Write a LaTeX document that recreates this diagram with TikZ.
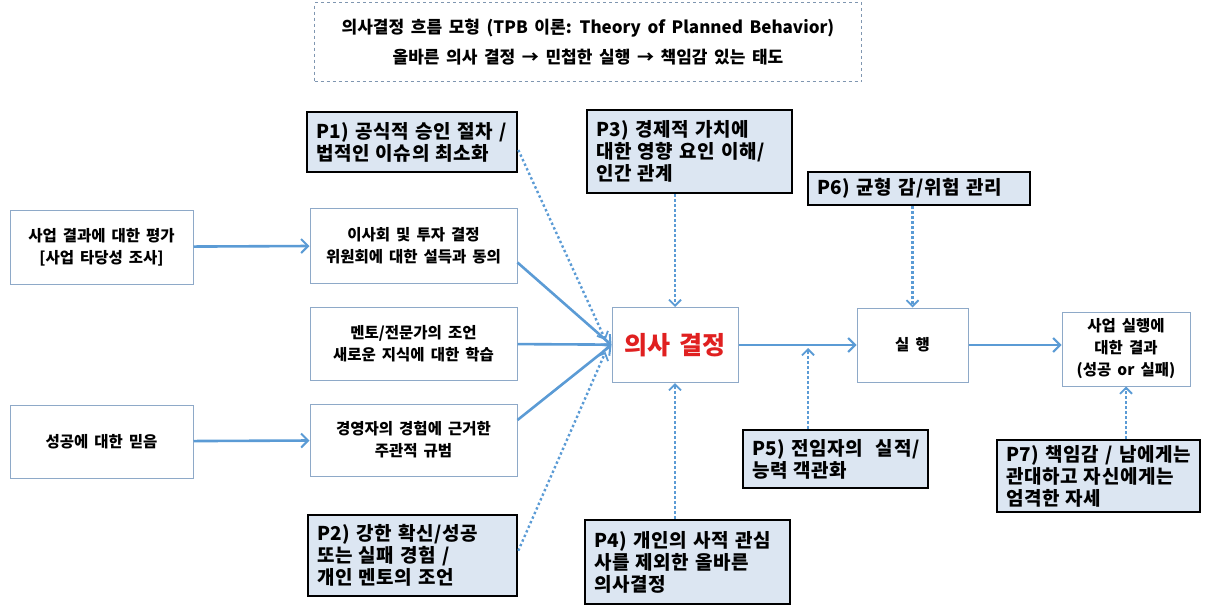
\documentclass[tikz,border=0pt]{standalone}
\usepackage{fontspec}
\setmainfont[WordSpace=1.7]{Noto Sans CJK KR}
\newfontfamily\pfont[WordSpace=1.7,LetterSpace=3]{Noto Sans CJK KR}
\usetikzlibrary{arrows.meta,calc}
\definecolor{lineblue}{HTML}{5B9BD5}
\definecolor{boxedge}{HTML}{8EA9C8}
\definecolor{pfill}{HTML}{DCE6F2}
\definecolor{titleedge}{HTML}{7F96B0}
\definecolor{decred}{HTML}{E02020}
\tikzset{
  plain/.style={draw=boxedge, line width=1pt, fill=white, align=center, font=\bfseries\fontsize{15.5}{22}\selectfont, inner sep=2pt},
  pbox/.style={draw=black, line width=2.6pt, fill=pfill, align=left, font=\pfont\bfseries\fontsize{19}{22}\selectfont, inner xsep=9pt, inner ysep=2pt},
  flow/.style={draw=lineblue, line width=2.6pt, -{Straight Barb[length=7pt,width=14pt,line width=2pt]}},
  hint/.style={draw=lineblue, line width=2.4pt, dash pattern=on 2.4pt off 2.6pt, -{Straight Barb[length=6pt,width=12pt,line width=1.8pt,sep=0pt]}}
}
\begin{document}
\begin{tikzpicture}[x=1pt,y=-1pt]
\useasboundingbox (0,0) rectangle (1215,606);
% title
\node[draw=titleedge, dashed, line width=1pt, minimum width=547pt, minimum height=79pt, align=center, font=\bfseries\fontsize{17}{30}\selectfont] (title) at (588,42)
  {의사결정 흐름 모형 (TPB 이론: Theory of Planned Behavior)\\올바른 의사 결정 → 민첩한 실행 → 책임감 있는 태도};
% plain boxes
\node[plain, minimum width=183pt, minimum height=74pt] (A) at (101.5,247) {사업 결과에 대한 평가\\{}{[}사업 타당성 조사{]}};
\node[plain, minimum width=207pt, minimum height=75pt] (B) at (413.5,245.5) {이사회 및 투자 결정\\위원회에 대한 설득과 동의};
\node[plain, minimum width=207pt, minimum height=73pt] (C) at (413.5,343.5) {멘토/전문가의 조언\\새로운 지식에 대한 학습};
\node[plain, minimum width=183pt, minimum height=73pt] (D) at (101.5,441.5) {성공에 대한 믿음};
\node[plain, minimum width=207pt, minimum height=72pt] (E) at (413.5,440) {경영자의 경험에 근거한\\주관적 규범};
\node[plain, minimum width=126pt, minimum height=75pt, font=\bfseries\fontsize{25}{28}\selectfont, text=decred] (dec) at (675,345) {의사 결정};
\node[plain, minimum width=111pt, minimum height=74pt] (exe) at (912.5,345) {실 행};
\node[plain, minimum width=128pt, minimum height=74pt] (res) at (1126,349) {사업 실행에\\대한 결과\\(성공 or 실패)};
% P boxes
\node[pbox, minimum width=210pt, minimum height=60pt, text width=192pt] (P1) at (412,142) {P1) 공식적 승인 절차 /\\법적인 이슈의 최소화};
\node[pbox, minimum width=205pt, minimum height=83pt, text width=187pt] (P3) at (689.5,151.5) {P3) 경제적 가치에\\대한 영향 요인 이해/\\인간 관계};
\node[pbox, minimum width=222pt, minimum height=33pt, text width=204pt] (P6) at (919,188.5) {P6) 균형 감/위험 관리};
\node[pbox, minimum width=185pt, minimum height=58pt, text width=167pt] (P5) at (835.5,459) {P5) 전임자의 \ 실적/\\능력 객관화};
\node[pbox, minimum width=203pt, minimum height=72pt, text width=185pt] (P7) at (1098.5,476) {P7) 책임감 / 남에게는\\관대하고 자신에게는\\엄격한 자세};
\node[pbox, minimum width=209pt, minimum height=81pt, text width=191pt] (P2) at (412.5,555.5) {P2) 강한 확신/성공\\또는 실패 경험 /\\개인 멘토의 조언};
\node[pbox, minimum width=205pt, minimum height=84pt, text width=187pt] (P4) at (687.5,562) {P4) 개인의 사적 관심\\사를 제외한 올바른\\의사결정};
% solid flows
\draw[flow] (A) -- (B);
\draw[flow] (D) -- (E);
\draw[flow] ([yshift=-17pt]B.east) -- (dec.west);
\draw[flow] (C) -- (dec);
\draw[flow] ([yshift=20pt]E.east) -- (dec.west);
\draw[flow] (dec) -- (exe);
\draw[flow] (exe.east) -- (exe.east -| res.west);
% dotted hints
\coordinate (m5) at (808,345);
\draw[hint] ([yshift=-8pt]P1.east) -- ([xshift=-6pt,yshift=5pt]dec.west);
\draw[hint] ([yshift=-37pt]P2.north east) -- ([xshift=-6pt,yshift=-7pt]dec.west);
\draw[hint] (P3.south -| dec.north) -- (dec.north);
\draw[hint] (P4.north -| dec.south) -- (dec.south);
\draw[hint] (P6.south -| exe.north) -- (exe.north);
\draw[hint] (P5.north -| m5) -- ([yshift=-3pt]m5);
\draw[hint] (P7.north -| res.south) -- (res.south);
\end{tikzpicture}
\end{document}
